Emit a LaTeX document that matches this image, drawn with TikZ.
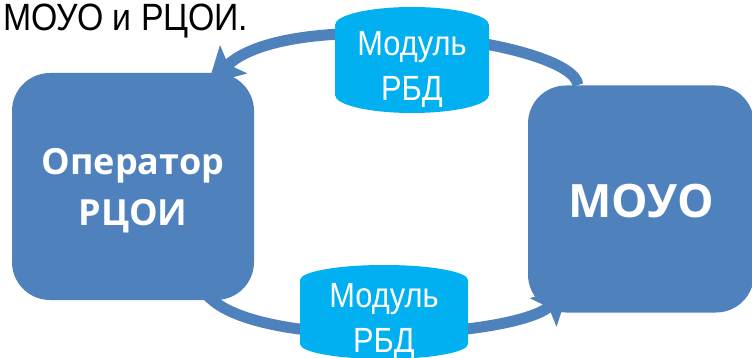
\documentclass[tikz,border=0pt]{standalone}
\usepackage{fontspec}
\setmainfont{Liberation Sans}
\newfontfamily\boldfont{Open Sans}
\newfontfamily\narrowfont[FakeStretch=0.88]{Liberation Sans}
\newfontfamily\titlefont[FakeStretch=0.89]{Liberation Sans}
\usetikzlibrary{arrows.meta,backgrounds}
\definecolor{boxblue}{HTML}{4F81BD}
\definecolor{cylblue}{HTML}{00B0F0}
\newcommand{\moduledrum}[6]{
  \begin{scope}[shift={#2}]
    \fill[cylblue] (-#3,-#4) arc[start angle=180,end angle=0,x radius=#3pt,y radius=#5pt]
      -- (#3,#4) arc[start angle=0,end angle=-180,x radius=#3pt,y radius=#5pt] -- cycle;
    \node[moduletext] (#1) at (0,#6) {Модуль\\РБД};
  \end{scope}
}
\tikzset{
  party/.style={fill=boxblue,rounded corners=38pt,inner sep=0pt,align=center,text=white},
  moduletext/.style={inner sep=0pt,align=center,text=white,font=\narrowfont\fontsize{35}{45}\selectfont},
  link/.style={draw=boxblue,line width=11pt,-{Stealth[length=35pt,width=38pt,inset=7pt]}}
}
\begin{document}
\begin{tikzpicture}[x=1pt,y=-1pt]
  \useasboundingbox (0,0) rectangle (752,358);
  \node[anchor=base west,inner sep=0pt,font=\titlefont\fontsize{38}{40}\selectfont] (title) at (3,31) {МОУО и РЦОИ.};
  \node[party,minimum width=242pt,minimum height=227pt,font=\boldfont\bfseries\fontsize{36}{51}\selectfont] (operator) at (133,186.5) {\rule{0pt}{35pt}Оператор\\РЦОИ};
  \node[party,minimum width=226pt,minimum height=227pt,font=\boldfont\bfseries\fontsize{46}{60}\selectfont] (moyo) at (641,199) {\rule{0pt}{37pt}МОУО};
  \moduledrum{upper}{(412,60)}{77}{35}{18}{9}
  \moduledrum{lower}{(384,312)}{84}{32}{15}{9}
  \coordinate (upperfrom) at (578,85);
  \coordinate (upperto) at (208,84);
  \coordinate (lowerfrom) at (208,296);
  \coordinate (lowerto) at (569,288);
  \begin{scope}[on background layer]
    \draw[link] (upperfrom) .. controls (572,40) and (290,5) .. (upperto);
    \draw[link] (lowerfrom) .. controls (260,352) and (516,338) .. (lowerto);
  \end{scope}
\end{tikzpicture}
\end{document}
